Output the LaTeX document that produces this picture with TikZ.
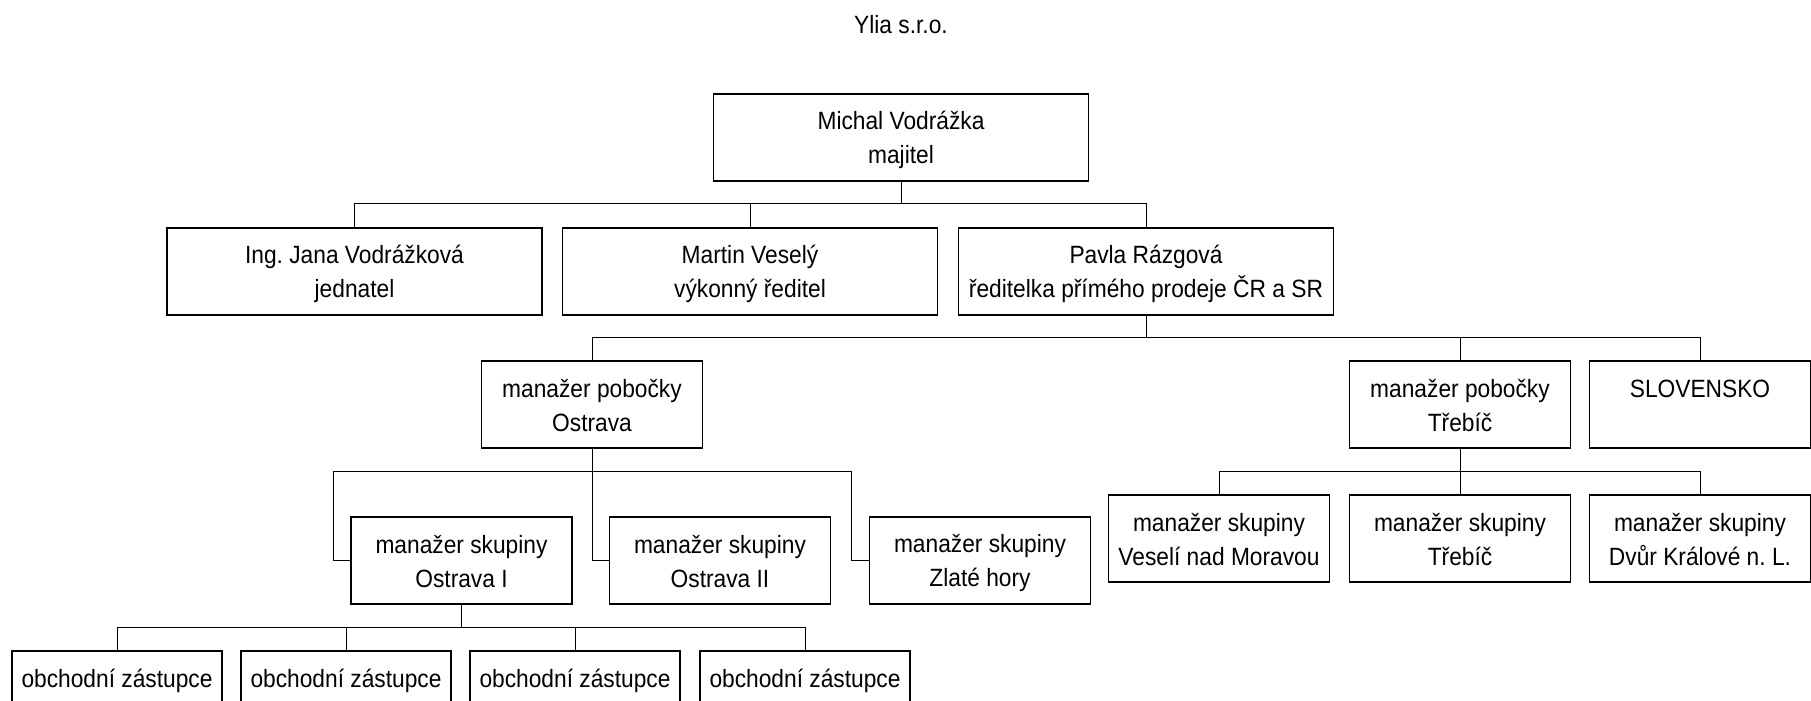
\documentclass[tikz,border=0pt]{standalone}
\usepackage{fontspec}
\setmainfont[FakeStretch=0.91]{Liberation Sans}
\usepackage{tikz}
\frenchspacing

\newcommand{\boxstrut}{\rule[-2.4pt]{0pt}{14.3pt}}
\newcommand{\orgtext}[2]{\boxstrut #1\\\boxstrut #2}

\tikzset{
   orgbox/.style={
      draw,
      line width = .75pt,
      align = center,
      inner sep = 0pt,
      minimum height = 43.5pt
   },
   widebox/.style={orgbox, minimum width = 187.5pt},
   unitbox/.style={orgbox, minimum width = 110.5pt},
   repbox/.style={orgbox, minimum width = 105pt},
   link/.style={line width = .5pt}
}

\begin{document}
\begin{tikzpicture}[x=0.5pt, y=-0.5pt, font=\fontsize{12.5}{17}\selectfont]
   \useasboundingbox (0,0) rectangle (1811,701);
   \clip (0,0) rectangle (1811,701);

   \node[anchor=base] (title) at (901,34) {Ylia s.r.o.};

   \node[widebox] (michal) at (901,137.5) {\orgtext{Michal Vodrážka}{majitel}};
   \node[widebox] (jana) at (354.5,271.5) {\orgtext{Ing. Jana Vodrážková}{jednatel}};
   \node[widebox] (martin) at (750,271.5) {\orgtext{Martin Veselý}{výkonný ředitel}};
   \node[widebox] (pavla) at (1146,271.5) {\orgtext{Pavla Rázgová}{ředitelka přímého prodeje ČR a SR}};

   \node[unitbox] (ostrava) at (592,404.5) {\orgtext{manažer pobočky}{Ostrava}};
   \node[unitbox] (trebic) at (1460,404.5) {\orgtext{manažer pobočky}{Třebíč}};
   \node[unitbox] (slovensko) at (1700,404.5) {\orgtext{SLOVENSKO}{}};

   \node[unitbox] (skupA) at (461.5,560.5) {\orgtext{manažer skupiny}{Ostrava I}};
   \node[unitbox] (skupB) at (720,560.5) {\orgtext{manažer skupiny}{Ostrava II}};
   \node[unitbox] (skupC) at (980,560.5) {\orgtext{manažer skupiny}{Zlaté hory}};

   \node[unitbox] (skupV) at (1219,538.5) {\orgtext{manažer skupiny}{Veselí nad Moravou}};
   \node[unitbox] (skupT) at (1460,538.5) {\orgtext{manažer skupiny}{Třebíč}};
   \node[unitbox] (skupD) at (1700,538.5) {\orgtext{manažer skupiny}{Dvůr Králové n. L.}};

   \foreach \x [count=\i] in {117,346,575,805}
      \node[repbox] (zast\i) at (\x,694.5) {\orgtext{obchodní zástupce}{}};

   \coordinate (bus1) at (0,203.5);
   \draw[link] (michal.south) -- (michal.south |- bus1);
   \draw[link] (jana.north) |- (pavla.north |- bus1) -- (pavla.north);
   \draw[link] (martin.north) -- (martin.north |- bus1);

   \coordinate (bus2) at (0,337.5);
   \draw[link] (pavla.south) -- (pavla.south |- bus2);
   \draw[link] (ostrava.north) |- (slovensko.north |- bus2) -- (slovensko.north);
   \draw[link] (trebic.north) -- (trebic.north |- bus2);

   \coordinate (tapA) at (333,471);
   \coordinate (tapC) at (851,471);
   \draw[link] (skupA.west) -| (tapA) -- (tapC) |- (skupC.west);
   \draw[link] (ostrava.south) |- (skupB.west);

   \coordinate (bus3) at (0,471);
   \draw[link] (trebic.south) -- (skupT.north);
   \draw[link] (skupV.north) |- (skupD.north |- bus3) -- (skupD.north);

   \coordinate (bus4) at (0,627);
   \draw[link] (skupA.south) -- (skupA.south |- bus4);
   \draw[link] (zast1.north) |- (zast4.north |- bus4) -- (zast4.north);
   \foreach \i in {2,3}
      \draw[link] (zast\i.north) -- (zast\i.north |- bus4);

\end{tikzpicture}
\end{document}
